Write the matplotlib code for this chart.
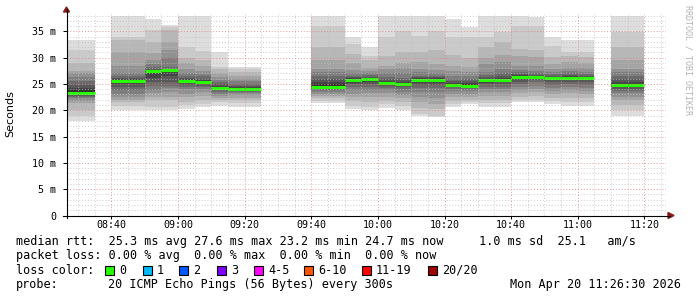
import matplotlib
matplotlib.use("Agg")
import matplotlib.pyplot as plt
from matplotlib.patches import Rectangle
from matplotlib.ticker import FixedLocator

# ---------------- data ----------------
slot_start = ["08:25", "08:30", "08:40", "08:45", "08:50", "08:55", "09:00", "09:05",
              "09:10", "09:15", "09:20", "09:40", "09:45", "09:50", "09:55", "10:00",
              "10:05", "10:10", "10:15", "10:20", "10:25", "10:30", "10:35", "10:40",
              "10:45", "10:50", "10:55", "11:00", "11:10", "11:15"]

median_ms = [23.25, 23.25, 25.6, 25.6, 27.4, 27.6, 25.5, 25.3,
             24.3, 24.1, 24.1, 24.5, 24.5, 25.8, 26.0, 25.15,
             24.97, 25.8, 25.85, 24.8, 24.7, 25.7, 25.8, 26.3,
             26.25, 26.2, 26.2, 26.1, 24.77, 24.77]

# sorted pings, lower half (outermost -> innermost)
smoke_lo = [
    [18.0, 19.0, 20.0, 21.3, 21.8, 22.3, 22.5, 22.8, 23.0, 23.1],
    [18.0, 19.0, 20.0, 21.3, 21.8, 22.3, 22.5, 22.8, 23.0, 23.1],
    [20.0, 20.9, 21.5, 21.9, 22.5, 23.0, 23.8, 24.5, 24.9, 25.3],
    [20.0, 20.9, 21.5, 21.9, 22.5, 23.0, 23.8, 24.5, 24.9, 25.3],
    [20.0, 20.6, 22.0, 22.5, 23.2, 23.8, 24.7, 25.3, 26.2, 27.0],
    [20.0, 20.7, 22.0, 22.5, 23.4, 24.3, 24.7, 25.3, 26.5, 27.2],
    [20.3, 21.0, 21.5, 22.5, 23.0, 24.1, 24.5, 24.8, 25.1, 25.3],
    [20.6, 21.2, 21.9, 22.8, 23.4, 24.0, 24.4, 24.7, 24.9, 25.1],
    [20.9, 21.5, 21.9, 22.4, 22.8, 23.1, 23.5, 23.8, 24.0, 24.2],
    [20.7, 21.3, 21.9, 22.4, 22.9, 23.2, 23.5, 23.7, 23.9, 24.0],
    [20.7, 21.3, 21.9, 22.4, 22.9, 23.2, 23.5, 23.7, 23.9, 24.0],
    [21.3, 21.8, 22.3, 22.8, 23.1, 23.5, 23.8, 24.0, 24.2, 24.4],
    [21.3, 21.8, 22.3, 22.8, 23.1, 23.5, 23.8, 24.0, 24.2, 24.4],
    [20.3, 20.9, 21.8, 22.5, 23.1, 23.8, 24.4, 24.9, 25.2, 25.5],
    [20.0, 20.6, 21.5, 22.5, 23.2, 23.8, 24.5, 25.0, 25.4, 25.7],
    [20.5, 21.2, 21.8, 22.5, 23.2, 23.8, 24.3, 24.6, 24.9, 25.0],
    [20.1, 20.9, 21.5, 22.3, 22.9, 23.5, 24.0, 24.4, 24.6, 24.8],
    [19.0, 19.3, 20.5, 21.5, 22.5, 23.4, 24.2, 24.8, 25.2, 25.5],
    [18.7, 19.0, 20.2, 21.2, 22.3, 23.4, 24.2, 24.8, 25.2, 25.5],
    [20.6, 21.2, 21.8, 22.5, 23.1, 23.7, 24.1, 24.4, 24.6, 24.7],
    [21.1, 21.6, 22.0, 22.6, 23.1, 23.6, 24.0, 24.3, 24.5, 24.6],
    [20.7, 21.3, 21.9, 22.8, 23.5, 24.0, 24.5, 24.9, 25.2, 25.4],
    [20.6, 21.3, 21.9, 22.8, 23.5, 24.0, 24.5, 25.0, 25.3, 25.5],
    [21.5, 21.9, 22.5, 23.2, 23.8, 24.4, 25.0, 25.4, 25.7, 26.0],
    [21.5, 22.0, 22.8, 23.5, 24.1, 24.7, 25.3, 25.7, 25.9, 26.1],
    [21.2, 21.8, 22.3, 23.0, 23.7, 24.3, 24.8, 25.3, 25.7, 26.0],
    [20.9, 21.6, 22.4, 23.2, 23.8, 24.4, 24.9, 25.4, 25.8, 26.0],
    [20.9, 21.6, 22.4, 23.1, 23.7, 24.3, 24.8, 25.3, 25.7, 25.9],
    [19.0, 20.0, 21.0, 21.9, 22.6, 23.2, 23.7, 24.1, 24.4, 24.6],
    [19.0, 20.0, 21.0, 21.9, 22.6, 23.2, 23.7, 24.1, 24.4, 24.6],
]

# sorted pings, upper half (outermost -> innermost)
smoke_hi = [
    [33.3, 31.5, 29.0, 27.5, 27.0, 26.3, 25.5, 24.8, 24.3, 23.8],
    [33.3, 31.5, 29.0, 27.5, 27.0, 26.3, 25.5, 24.8, 24.3, 23.8],
    [38.0, 34.0, 33.4, 31.0, 28.5, 27.0, 26.5, 26.2, 26.0, 25.8],
    [38.0, 34.0, 33.4, 31.0, 28.5, 27.0, 26.5, 26.2, 26.0, 25.8],
    [37.4, 35.2, 33.0, 30.8, 29.5, 28.8, 28.3, 27.9, 27.7, 27.5],
    [36.3, 35.8, 35.2, 33.0, 31.5, 30.0, 28.2, 27.9, 27.8, 27.7],
    [38.0, 32.1, 30.0, 29.0, 27.9, 27.0, 26.6, 26.2, 25.9, 25.7],
    [38.0, 31.2, 29.6, 28.5, 27.5, 26.9, 26.5, 26.0, 25.7, 25.5],
    [31.0, 28.2, 27.8, 27.0, 26.3, 25.8, 25.3, 25.0, 24.7, 24.5],
    [28.3, 27.9, 27.2, 26.6, 26.0, 25.5, 25.0, 24.7, 24.4, 24.2],
    [28.3, 27.9, 27.2, 26.6, 26.0, 25.5, 25.0, 24.7, 24.4, 24.2],
    [38.0, 36.1, 32.0, 29.5, 27.8, 27.2, 26.6, 26.0, 25.4, 25.0],
    [38.0, 36.1, 32.0, 29.5, 27.8, 27.2, 26.6, 26.0, 25.4, 25.0],
    [33.9, 32.6, 30.7, 29.0, 27.6, 27.0, 26.6, 26.3, 26.1, 25.9],
    [32.0, 30.4, 29.5, 28.0, 27.5, 27.0, 26.7, 26.4, 26.2, 26.1],
    [38.0, 34.0, 30.3, 28.5, 27.9, 27.0, 26.3, 25.9, 25.6, 25.4],
    [38.0, 35.0, 31.0, 29.0, 28.0, 27.0, 26.2, 25.8, 25.4, 25.2],
    [38.0, 34.2, 31.0, 29.1, 27.9, 27.2, 26.6, 26.3, 26.1, 26.0],
    [38.0, 35.0, 31.4, 28.8, 27.6, 27.0, 26.6, 26.3, 26.1, 26.0],
    [37.4, 33.9, 30.5, 28.5, 27.4, 26.6, 26.0, 25.5, 25.2, 25.0],
    [35.9, 33.9, 30.0, 28.2, 27.2, 26.6, 26.0, 25.5, 25.1, 24.9],
    [38.0, 34.0, 32.0, 30.0, 28.8, 27.3, 26.8, 26.4, 26.0, 25.8],
    [38.0, 34.8, 32.9, 30.5, 29.1, 27.9, 27.0, 26.5, 26.2, 26.0],
    [38.0, 36.1, 31.7, 30.4, 28.5, 27.7, 27.2, 26.9, 26.7, 26.5],
    [37.7, 36.1, 31.4, 30.1, 28.5, 27.4, 27.0, 26.8, 26.6, 26.4],
    [34.0, 32.2, 30.1, 28.8, 27.9, 27.3, 26.9, 26.6, 26.4, 26.3],
    [33.4, 31.0, 30.4, 29.1, 28.0, 27.4, 27.0, 26.7, 26.5, 26.3],
    [33.4, 31.0, 30.2, 29.0, 28.0, 27.3, 26.9, 26.6, 26.4, 26.2],
    [38.0, 34.8, 32.1, 29.5, 27.9, 27.2, 26.5, 25.9, 25.3, 25.0],
    [38.0, 34.8, 32.1, 29.5, 27.9, 27.2, 26.5, 25.9, 25.3, 25.0],
]

x_tick_labels = ["08:40", "09:00", "09:20", "09:40", "10:00", "10:20", "10:40", "11:00", "11:20"]
y_tick_values = [0, 5, 10, 15, 20, 25, 30, 35]

loss_labels = ["0", "1", "2", "3", "4-5", "6-10", "11-19", "20/20"]
loss_colors = ["#26ff00", "#00b8ff", "#0059ff", "#7e00ff", "#ff00ff", "#ff5500", "#ff0000", "#a10000"]

median_line = "median rtt:  25.3 ms avg 27.6 ms max 23.2 ms min 24.7 ms now     1.0 ms sd  25.1   am/s"
loss_line = "packet loss: 0.00 % avg  0.00 % max  0.00 % min  0.00 % now"
probe_text = "20 ICMP Echo Pings (56 Bytes) every 300s"
date_text = "Mon Apr 20 11:26:30 2026"

# ---------------- figure ----------------
W, H = 697, 297
fig = plt.figure(figsize=(W / 100, H / 100), dpi=100)
fig.patch.set_facecolor("white")

def fx(px):
    return px / W

def fy(py):
    return 1 - py / H

L, R, T, B = 66.5, 666.0, 14.0, 215.5
ax = fig.add_axes([fx(L), fy(B), fx(R) - fx(L), fy(T) - fy(B)])
ax.set_facecolor("white")

def to_min(s):
    h, m = s.split(":")
    return int(h) * 60 + int(m)

x0 = to_min("08:26") + 0.5
x1 = to_min("11:26") + 0.5
ax.set_xlim(x0, x1)
ax.set_ylim(0, 38.3)

step = 5
half = 10
for s, lo, hi, med in zip(slot_start, smoke_lo, smoke_hi, median_ms):
    xs = to_min(s)
    for ii in range(half):
        g = int(190 / half * (half - (ii + 1))) + 50
        col = "#%02x%02x%02x" % (g, g, g)
        ax.bar(xs, hi[ii] - lo[ii], bottom=lo[ii], width=step, align="edge",
               color=col, linewidth=0, antialiased=False, zorder=2 + ii)
    ax.hlines(med, xs, xs + step, colors="#26ff00", linewidth=2.2, zorder=20)

# grid
for m in range(int(x0) - int(x0) % 5, int(x1) + 1, 5):
    if m < x0 or m > x1:
        continue
    if m % 20 == 0:
        ax.axvline(m, color="#e08080", lw=0.7, ls=(0, (1, 2)), alpha=0.8, zorder=25)
    else:
        ax.axvline(m, color="#c0c0c0", lw=0.7, ls=(0, (1, 2)), alpha=0.8, zorder=25)
for v in range(1, 39):
    if v % 5 == 0:
        ax.axhline(v, color="#e08080", lw=0.7, ls=(0, (1, 2)), alpha=0.8, zorder=25)
    else:
        ax.axhline(v, color="#c0c0c0", lw=0.7, ls=(0, (1, 2)), alpha=0.8, zorder=25)

for sp in ax.spines.values():
    sp.set_visible(False)

mono = "DejaVu Sans Mono"
ax.xaxis.set_major_locator(FixedLocator([to_min(t) for t in x_tick_labels]))
ax.set_xticklabels(x_tick_labels, fontfamily=mono, fontsize=7.2)
ax.yaxis.set_major_locator(FixedLocator(y_tick_values))
ax.set_yticklabels(["0" if v == 0 else "%d m" % v for v in y_tick_values],
                   fontfamily=mono, fontsize=7.2)
ax.tick_params(axis="y", direction="out", length=3, width=0.7, pad=4.5, color="#000000")
ax.tick_params(axis="x", direction="out", length=2, width=0.7, pad=1.5, color="#000000")

# axes lines with arrows
fig.add_artist(plt.Line2D([fx(63), fx(670)], [fy(B), fy(B)], color="black", lw=0.8))
fig.add_artist(plt.Line2D([fx(L), fx(L)], [fy(B + 2), fy(9)], color="black", lw=0.8))
fig.add_artist(plt.Polygon([[fx(L - 3), fy(12)], [fx(L + 3), fy(12)], [fx(L), fy(7)]],
                           closed=True, color="#8b1a1a"))
fig.add_artist(plt.Polygon([[fx(668), fy(B - 3)], [fx(668), fy(B + 3)], [fx(674), fy(B)]],
                           closed=True, color="#8b1a1a"))

# labels
fig.text(fx(10), fy(114), "Seconds", rotation=90, ha="center", va="center",
         fontsize=8, fontfamily="DejaVu Sans")
fig.text(fx(688), fy(5), "RRDTOOL / TOBI OETIKER", rotation=270, ha="center", va="top",
         fontsize=6, fontfamily=mono, color="#b4b4b4")

fs = 8.5
fig.text(fx(16), fy(241), median_line, ha="left", va="center", fontsize=fs, fontfamily=mono)
fig.text(fx(16), fy(255.5), loss_line, ha="left", va="center", fontsize=fs, fontfamily=mono)
fig.text(fx(16), fy(270), "loss color:", ha="left", va="center", fontsize=fs, fontfamily=mono)
sq_x = [109, 147, 183, 221, 258, 308, 366, 432]
for x, lab, col in zip(sq_x, loss_labels, loss_colors):
    fig.add_artist(Rectangle((fx(x - 4), fy(274.5)), fx(9), 9 / H, facecolor=col,
                             edgecolor="black", lw=0.8))
    fig.text(fx(x + 10), fy(270), lab, ha="left", va="center", fontsize=fs, fontfamily=mono)
fig.text(fx(16), fy(284.5), "probe:", ha="left", va="center", fontsize=fs, fontfamily=mono)
fig.text(fx(108), fy(284.5), probe_text, ha="left", va="center", fontsize=fs, fontfamily=mono)
fig.text(fx(681), fy(284.5), date_text, ha="right", va="center", fontsize=fs, fontfamily=mono)

fig.savefig("out.png", dpi=100)
